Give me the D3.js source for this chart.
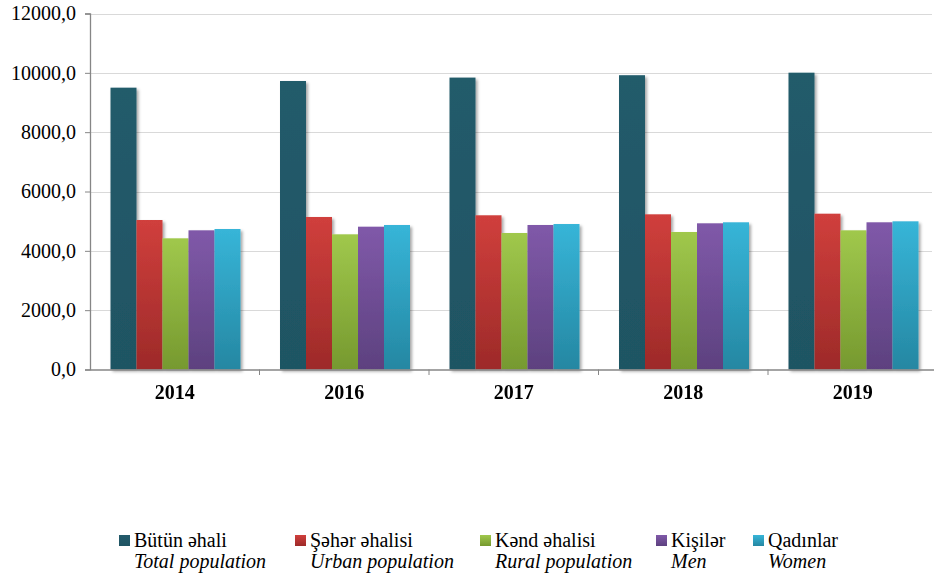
<!DOCTYPE html>
<html><head><meta charset="utf-8">
<script src="https://cdn.jsdelivr.net/npm/d3@7"></script>
<style>body{margin:0;background:#fff}svg{display:block}</style>
</head><body>
<svg id="c" width="934" height="576"></svg>
<script>
const years = ["2014","2016","2017","2018","2019"];
const seriesAz = ["Bütün əhali","Şəhər əhalisi","Kənd əhalisi","Kişilər","Qadınlar"];
const seriesEn = ["Total population","Urban population","Rural population","Men","Women"];
const total = [9500, 9725, 9840, 9920, 10005];
const urban = [5039, 5141, 5198, 5231, 5252];
const rural = [4422, 4557, 4601, 4635, 4692];
const men   = [4692, 4814, 4871, 4928, 4962];
const women = [4736, 4871, 4904, 4962, 4995];
const yTicks = [0, 2000, 4000, 6000, 8000, 10000, 12000];

const FONT = '"Liberation Serif"';
const values = [total, urban, rural, men, women];
const colTop = ["#235b6b","#d03f3c","#a0c84c","#8059a9","#37b5d8"];
const colBot = ["#1f5463","#9d2a29","#76992f","#5d417f","#2587a2"];
const legendX = [119, 295, 480, 656, 753];

const svg = d3.select("#c");
const x0 = d3.scaleBand().domain(years).range([90, 937.5]).padding(0);
const x1 = d3.scaleBand().domain(d3.range(5)).range([20.5, 150.5]).padding(0);
const y = d3.scaleLinear().domain([0, 12000]).range([369.5, 13.5]);

const defs = svg.append("defs");
colTop.forEach((c,i)=>{
  const g = defs.append("linearGradient").attr("id","g"+i).attr("x1",0).attr("y1",0).attr("x2",0).attr("y2",1);
  g.append("stop").attr("offset","0%").attr("stop-color",c);
  g.append("stop").attr("offset","100%").attr("stop-color",colBot[i]);
});
const f = defs.append("filter").attr("id","sh").attr("x","-20%").attr("y","-5%").attr("width","150%").attr("height","115%");
f.append("feDropShadow").attr("dx",2).attr("dy",2).attr("stdDeviation",1.5).attr("flood-color","#000").attr("flood-opacity",0.35);

// gridlines
svg.append("g").selectAll("line").data(yTicks.slice(1)).join("line")
  .attr("x1",90).attr("x2",932).attr("y1",d=>Math.round(y(d))+0.5).attr("y2",d=>Math.round(y(d))+0.5)
  .attr("stroke","#d9d9d9").attr("stroke-width",1.2);

// bars
const groups = svg.append("g").attr("filter","url(#sh)").selectAll("g").data(years).join("g")
  .attr("transform",d=>`translate(${x0(d)},0)`);
groups.selectAll("rect").data((d,gi)=>values.map((s,si)=>({si, v:s[gi]}))).join("rect")
  .attr("x",d=>x1(d.si)).attr("width",x1.bandwidth())
  .attr("y",d=>y(d.v)).attr("height",d=>y(0)-y(d.v))
  .attr("fill",d=>`url(#g${d.si})`);

// y axis
const ya = svg.append("g").attr("transform","translate(90,0)")
  .call(d3.axisLeft(y).tickValues(yTicks).tickSize(5).tickPadding(9)
    .tickFormat(d=>d3.format(".1f")(d).replace(".",",")));
ya.select(".domain").attr("stroke","#868686").attr("stroke-width",1.3);
ya.selectAll(".tick line").attr("stroke","#868686");
ya.selectAll("text").style("font-family",FONT).style("font-size","20px").attr("fill","#000");

// x axis
const xa = svg.append("g").attr("transform","translate(0,369.5)")
  .call(d3.axisBottom(x0).tickSize(0).tickPadding(15));
xa.select(".domain").attr("stroke","#868686").attr("stroke-width",1.3);
xa.selectAll("text").style("font-family",FONT).style("font-size","20px").style("font-weight","bold").attr("fill","#000");
svg.append("g").selectAll("line").data(years.slice(1)).join("line")
  .attr("x1",d=>x0(d)).attr("x2",d=>x0(d)).attr("y1",369.5).attr("y2",375)
  .attr("stroke","#868686").attr("stroke-width",1);

// legend
const lg = svg.append("g").selectAll("g").data(seriesAz).join("g")
  .attr("transform",(d,i)=>`translate(${legendX[i]},0)`);
lg.append("rect").attr("x",0).attr("y",535).attr("width",11).attr("height",11)
  .attr("fill",(d,i)=>`url(#g${i})`);
lg.append("text").attr("x",15).attr("y",547).text(d=>d)
  .style("font-family",FONT).style("font-size","20px").attr("fill","#000");
lg.append("text").attr("x",15).attr("y",568).text((d,i)=>seriesEn[i])
  .style("font-family",FONT).style("font-size","20px").style("font-style","italic").attr("fill","#000");
</script>
</body></html>
